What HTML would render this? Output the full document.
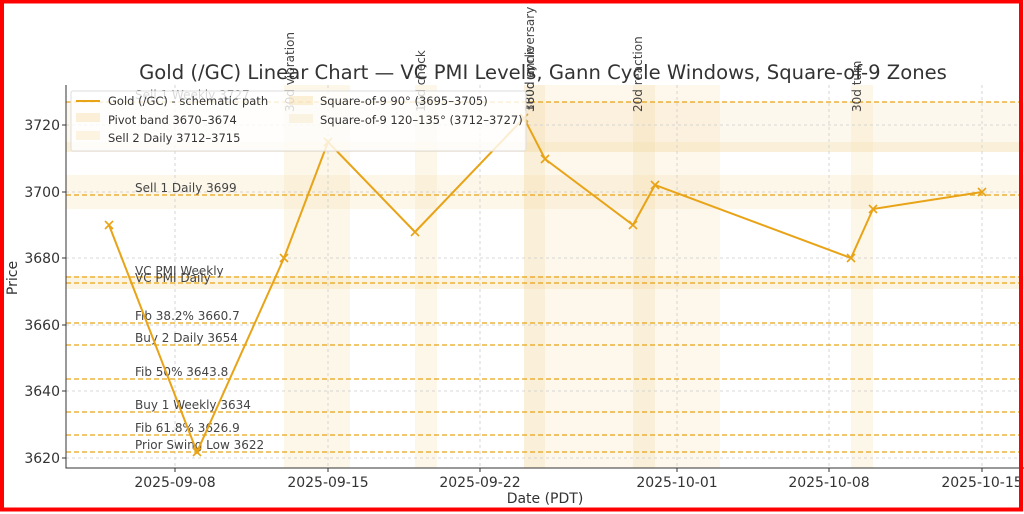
<!DOCTYPE html>
<html><head><meta charset="utf-8"><style>
html,body{margin:0;padding:0;background:#fff}
svg{display:block}
text{font-family:"DejaVu Sans","Liberation Sans",sans-serif}
</style></head><body>
<svg width="1024" height="514" viewBox="0 0 1024 514" xmlns="http://www.w3.org/2000/svg">
<rect x="0" y="0" width="1024" height="514" fill="#fff"/>
<g fill="#f5d9a0">
<rect x="66" y="102" width="960" height="50" opacity="0.18"/>
<rect x="66" y="142" width="960" height="10" opacity="0.25"/>
<rect x="66" y="175" width="960" height="34" opacity="0.22"/>
<rect x="66" y="276" width="960" height="13" opacity="0.3"/>
</g>
<g fill="#f5d9a0">
<rect x="284" y="85" width="66" height="383" opacity="0.22"/>
<rect x="415" y="85" width="22" height="383" opacity="0.22"/>
<rect x="524" y="85" width="196" height="383" opacity="0.2"/>
<rect x="524" y="85" width="21" height="383" opacity="0.25"/>
<rect x="633" y="85" width="22" height="383" opacity="0.25"/>
<rect x="851" y="85" width="22" height="383" opacity="0.22"/>
</g>
<g stroke="#ccc" stroke-width="0.8" stroke-dasharray="3,3">
<line x1="175" y1="85" x2="175" y2="468"/><line x1="328" y1="85" x2="328" y2="468"/>
<line x1="480" y1="85" x2="480" y2="468"/><line x1="677" y1="85" x2="677" y2="468"/>
<line x1="829" y1="85" x2="829" y2="468"/><line x1="982" y1="85" x2="982" y2="468"/>
<line x1="66" y1="125" x2="1024" y2="125"/><line x1="66" y1="192" x2="1024" y2="192"/>
<line x1="66" y1="258" x2="1024" y2="258"/><line x1="66" y1="325" x2="1024" y2="325"/>
<line x1="66" y1="391" x2="1024" y2="391"/><line x1="66" y1="458" x2="1024" y2="458"/>
</g>
<g stroke="#e8a317" stroke-width="1.3" stroke-dasharray="5,3">
<line x1="66" y1="102" x2="1024" y2="102"/><line x1="66" y1="195" x2="1024" y2="195"/>
<line x1="66" y1="277" x2="1024" y2="277"/><line x1="66" y1="283" x2="1024" y2="283"/>
<line x1="66" y1="323" x2="1024" y2="323"/><line x1="66" y1="345" x2="1024" y2="345"/>
<line x1="66" y1="379" x2="1024" y2="379"/><line x1="66" y1="412" x2="1024" y2="412"/>
<line x1="66" y1="435" x2="1024" y2="435"/><line x1="66" y1="452" x2="1024" y2="452"/>
</g>
<g font-size="12" fill="#444">
<text x="135" y="99">Sell 1 Weekly 3727</text>
<text x="135" y="192">Sell 1 Daily 3699</text>
<text x="135" y="275">VC PMI Weekly</text>
<text x="135" y="282">VC PMI Daily</text>
<text x="135" y="320">Fib 38.2% 3660.7</text>
<text x="135" y="342">Buy 2 Daily 3654</text>
<text x="135" y="376">Fib 50% 3643.8</text>
<text x="135" y="409">Buy 1 Weekly 3634</text>
<text x="135" y="432">Fib 61.8% 3626.9</text>
<text x="135" y="449">Prior Swing Low 3622</text>
</g>
<polyline fill="none" stroke="#e8a317" stroke-width="2" points="109,225 197,452 284,258 328,142 415,232 524,118 545,159 633,225 655,185 851,258 873,209 982,192"/>
<g stroke="#e8a317" stroke-width="1.6">
<path d="M105,221l8,8M113,221l-8,8 M193,448l8,8M201,448l-8,8 M280,254l8,8M288,254l-8,8 M324,138l8,8M332,138l-8,8 M411,228l8,8M419,228l-8,8 M520,114l8,8M528,114l-8,8 M541,155l8,8M549,155l-8,8 M629,221l8,8M637,221l-8,8 M651,181l8,8M659,181l-8,8 M847,254l8,8M855,254l-8,8 M869,205l8,8M877,205l-8,8 M978,188l8,8M986,188l-8,8"/>
</g>
<g font-size="12" fill="#444">
<text transform="translate(294,112) rotate(-90)">30d vibration</text>
<text transform="translate(425,112) rotate(-90)">10d check</text>
<text transform="translate(534,112) rotate(-90)">360d anniversary</text>
<text transform="translate(534,112) rotate(-90)">180d cycle</text>
<text transform="translate(642,112) rotate(-90)">20d reaction</text>
<text transform="translate(861,112) rotate(-90)">30d turn</text>
</g>
<text x="543" y="79" font-size="19.6" fill="#333" text-anchor="middle">Gold (/GC) Linear Chart — VC PMI Levels, Gann Cycle Windows, Square-of-9 Zones</text>
<rect x="71" y="91" width="455" height="60" fill="#fff" fill-opacity="0.8" stroke="#ddd" rx="2"/>
<line x1="76" y1="101" x2="100" y2="101" stroke="#e8a317" stroke-width="2"/>
<rect x="76" y="113" width="24" height="9" fill="#f5d9a0" opacity="0.4"/>
<rect x="76" y="131" width="24" height="9" fill="#f5d9a0" opacity="0.3"/>
<rect x="289" y="96" width="24" height="9" fill="#f5d9a0" opacity="0.4"/>
<rect x="289" y="114" width="24" height="9" fill="#f5d9a0" opacity="0.25"/>
<g font-size="11.5" fill="#333">
<text x="108" y="105">Gold (/GC) - schematic path</text>
<text x="108" y="124">Pivot band 3670–3674</text>
<text x="108" y="142">Sell 2 Daily 3712–3715</text>
<text x="320" y="105">Square-of-9 90° (3695–3705)</text>
<text x="320" y="124">Square-of-9 120–135° (3712–3727)</text>
</g>
<line x1="66" y1="85" x2="66" y2="468.5" stroke="#333" stroke-width="1"/>
<line x1="66" y1="468" x2="1024" y2="468" stroke="#333" stroke-width="1"/>
<g stroke="#333"><line x1="62" y1="125" x2="66" y2="125"/><line x1="62" y1="192" x2="66" y2="192"/><line x1="62" y1="258" x2="66" y2="258"/><line x1="62" y1="325" x2="66" y2="325"/><line x1="62" y1="391" x2="66" y2="391"/><line x1="62" y1="458" x2="66" y2="458"/>
<line x1="175" y1="468" x2="175" y2="472"/><line x1="328" y1="468" x2="328" y2="472"/><line x1="480" y1="468" x2="480" y2="472"/><line x1="677" y1="468" x2="677" y2="472"/><line x1="829" y1="468" x2="829" y2="472"/><line x1="982" y1="468" x2="982" y2="472"/></g>
<g font-size="14" fill="#333" text-anchor="end">
<text x="60" y="130">3720</text><text x="60" y="197">3700</text><text x="60" y="263">3680</text><text x="60" y="330">3660</text><text x="60" y="396">3640</text><text x="60" y="463">3620</text>
</g>
<g font-size="14" fill="#333" text-anchor="middle">
<text x="175" y="487">2025-09-08</text><text x="328" y="487">2025-09-15</text><text x="480" y="487">2025-09-22</text><text x="677" y="487">2025-10-01</text><text x="829" y="487">2025-10-08</text><text x="982" y="487">2025-10-15</text>
<text x="545" y="503">Date (PDT)</text>
<text transform="translate(17,278) rotate(-90)">Price</text>
</g>
<rect x="2" y="1.5" width="1019" height="508" fill="none" stroke="#ff0000" stroke-width="4"/>
</svg>
</body></html>
